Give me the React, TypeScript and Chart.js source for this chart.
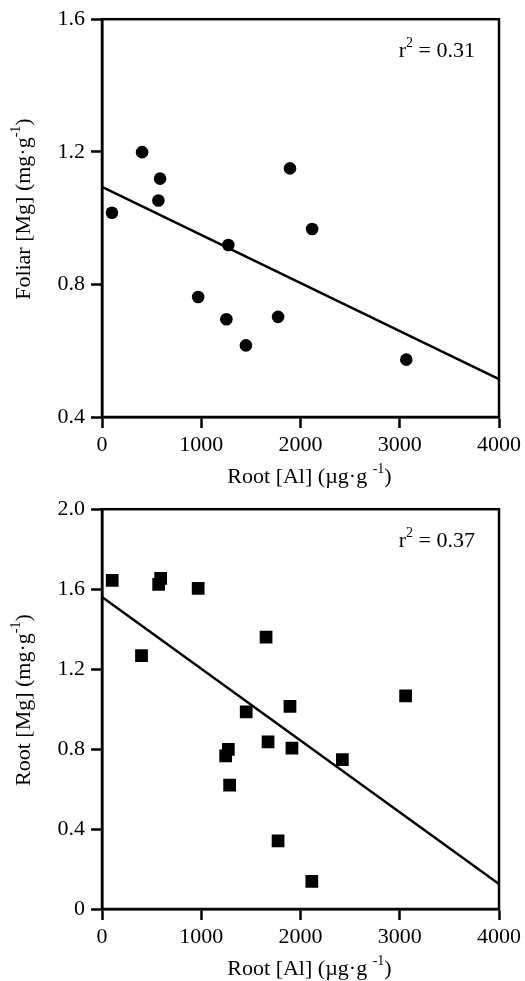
import React, { useEffect, useRef } from "react";
import { Chart, registerables } from "chart.js";

Chart.register(...registerables);

// ---------- data ----------
const xTickValues = [0, 1000, 2000, 3000, 4000];

const foliarAl = [100, 404, 585, 568, 1273, 969, 1253, 1450, 1774, 1894, 2117, 3066];
const foliarMg = [1.016, 1.199, 1.119, 1.053, 0.919, 0.762, 0.695, 0.616, 0.702, 1.15, 0.967, 0.573];
const foliarFitX = [0, 4000];
const foliarFitY = [1.094, 0.514];
const foliarYTicks = [0.4, 0.8, 1.2, 1.6];
const foliarR2 = "0.31";

const rootAl = [103, 571, 591, 969, 398, 1653, 1453, 1894, 3059, 1273, 1246, 1673, 1914, 2422, 1286, 1774, 2114];
const rootMg = [1.644, 1.624, 1.654, 1.604, 1.268, 1.36, 0.986, 1.014, 1.066, 0.798, 0.766, 0.836, 0.805, 0.747, 0.62, 0.341, 0.138];
const rootFitX = [0, 4000];
const rootFitY = [1.561, 0.125];
const rootYTicks = [0, 0.4, 0.8, 1.2, 1.6, 2.0];
const rootR2 = "0.37";

const FONT = "'Liberation Serif', 'Times New Roman', serif";

type Part = { t: string; sup?: boolean };

function partsWidth(ctx: CanvasRenderingContext2D, parts: Part[], size: number) {
  let w = 0;
  for (const p of parts) {
    ctx.font = `${p.sup ? Math.round(size * 0.65) : size}px ${FONT}`;
    w += ctx.measureText(p.t).width;
  }
  return w;
}

function drawParts(ctx: CanvasRenderingContext2D, parts: Part[], x: number, y: number, size: number, align: "center" | "right") {
  const w = partsWidth(ctx, parts, size);
  let cx = align === "center" ? x - w / 2 : x - w;
  ctx.textAlign = "left";
  ctx.textBaseline = "middle";
  ctx.fillStyle = "#000";
  for (const p of parts) {
    const s = p.sup ? Math.round(size * 0.65) : size;
    ctx.font = `${s}px ${FONT}`;
    ctx.fillText(p.t, cx, p.sup ? y - size * 0.36 : y);
    cx += ctx.measureText(p.t).width;
  }
}

interface PanelProps {
  height: number;
  top: number;
  bottom: number;
  xs: number[];
  ys: number[];
  fitX: number[];
  fitY: number[];
  yMin: number;
  yMax: number;
  yTicks: number[];
  pointStyle: string;
  pointRadius: number;
  yTitle: Part[];
  r2: string;
}

function Panel(props: PanelProps) {
  const ref = useRef<HTMLCanvasElement | null>(null);
  useEffect(() => {
    const canvas = ref.current;
    if (!canvas) return;
    const H = props.height;
    const annot = {
      id: "annot",
      afterDraw(chart: any) {
        const ctx = chart.ctx as CanvasRenderingContext2D;
        const a = chart.chartArea;
        ctx.save();
        ctx.strokeStyle = "#000";
        ctx.lineWidth = 2.5;
        ctx.strokeRect(a.left, a.top, a.right - a.left, a.bottom - a.top);
        // r2
        drawParts(ctx, [{ t: "r" }, { t: "2", sup: true }, { t: " = " + props.r2 }], a.right - 24, a.top + 32, 22, "right");
        // x title
        drawParts(ctx, [{ t: "Root [Al] (µg·g " }, { t: "-1", sup: true }, { t: ")" }], (a.left + a.right) / 2 + 9, a.bottom + 60, 22, "center");
        // y title
        ctx.translate(24, (a.top + a.bottom) / 2 - 9);
        ctx.rotate(-Math.PI / 2);
        drawParts(ctx, props.yTitle, 0, 0, 22, "center");
        ctx.restore();
      },
    };
    const chart = new Chart(canvas, {
      type: "scatter",
      data: {
        datasets: [
          {
            type: "scatter",
            data: props.xs.map((x, i) => ({ x, y: props.ys[i] })),
            pointStyle: props.pointStyle as any,
            pointRadius: props.pointRadius,
            pointBackgroundColor: "#000",
            pointBorderWidth: 0,
            pointBorderColor: "#000",
          },
          {
            type: "line",
            data: props.fitX.map((x, i) => ({ x, y: props.fitY[i] })),
            borderColor: "#000",
            borderWidth: 2.5,
            pointRadius: 0,
            fill: false,
          } as any,
        ],
      },
      options: {
        responsive: false,
        animation: false,
        events: [],
        layout: { padding: { left: 0, right: 23, top: props.top, bottom: 0 } },
        plugins: { legend: { display: false }, tooltip: { enabled: false }, title: { display: false } },
        scales: {
          x: {
            type: "linear",
            min: 0,
            max: 4000,
            afterBuildTicks: (s: any) => {
              s.ticks = xTickValues.map((v) => ({ value: v }));
            },
            afterFit: (s: any) => {
              s.height = H - props.bottom;
            },
            ticks: {
              font: { family: FONT, size: 22 },
              color: "#000",
              padding: 4,
              maxRotation: 0,
              callback: (v: any) => String(v),
            },
            grid: { drawOnChartArea: false, drawTicks: true, tickLength: 11, tickWidth: 2.5, tickColor: "#000", color: "#000" },
            border: { display: true, color: "#000", width: 2.5 },
          },
          y: {
            type: "linear",
            min: props.yMin,
            max: props.yMax,
            afterBuildTicks: (s: any) => {
              s.ticks = props.yTicks.map((v) => ({ value: v }));
            },
            afterFit: (s: any) => {
              s.width = 102;
            },
            ticks: {
              font: { family: FONT, size: 22 },
              color: "#000",
              padding: 6,
              callback: (v: any) => (Number(v) === 0 ? "0" : Number(v).toFixed(1)),
            },
            grid: { drawOnChartArea: false, drawTicks: true, tickLength: 11, tickWidth: 2.5, tickColor: "#000", color: "#000" },
            border: { display: true, color: "#000", width: 2.5 },
          },
        },
      } as any,
      plugins: [annot],
    });
    return () => chart.destroy();
  }, []);
  return <canvas ref={ref} width={525} height={props.height} style={{ display: "block", width: 525, height: props.height }} />;
}

export default function App() {
  return (
    <div style={{ position: "absolute", left: 0, top: 0, width: 525, height: 981, background: "#fff" }}>
      <Panel
        height={490}
        top={17}
        bottom={417}
        xs={foliarAl}
        ys={foliarMg}
        fitX={foliarFitX}
        fitY={foliarFitY}
        yMin={0.4}
        yMax={1.6}
        yTicks={foliarYTicks}
        pointStyle="circle"
        pointRadius={6.3}
        yTitle={[{ t: "Foliar [Mg] (mg·g" }, { t: "-1", sup: true }, { t: ")" }]}
        r2={foliarR2}
      />
      <Panel
        height={491}
        top={18}
        bottom={419}
        xs={rootAl}
        ys={rootMg}
        fitX={rootFitX}
        fitY={rootFitY}
        yMin={0}
        yMax={2.0}
        yTicks={rootYTicks}
        pointStyle="rect"
        pointRadius={9}
        yTitle={[{ t: "Root [Mg] (mg·g" }, { t: "-1", sup: true }, { t: ")" }]}
        r2={rootR2}
      />
    </div>
  );
}
